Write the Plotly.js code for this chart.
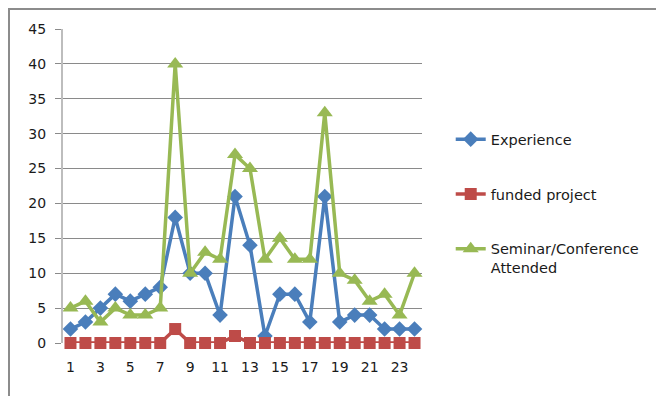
<!DOCTYPE html>
<html><head><meta charset="utf-8">
<script src="https://cdn.plot.ly/plotly-3.0.1.min.js"></script>
<style>
html,body{margin:0;padding:0;background:#fff;}
#frame{position:absolute;left:8px;top:8px;width:700px;height:450px;border-left:2px solid #8c8c8c;border-top:2px solid #8c8c8c;}
#chart{position:absolute;left:0;top:0;width:656px;height:396px;}
</style></head>
<body>
<div id="frame"></div>
<div id="chart"></div>
<script>
const categories = [1,2,3,4,5,6,7,8,9,10,11,12,13,14,15,16,17,18,19,20,21,22,23,24];
const tickLabels = [1,3,5,7,9,11,13,15,17,19,21,23];
const experience = [2,3,5,7,6,7,8,18,10,10,4,21,14,1,7,7,3,21,3,4,4,2,2,2];
const fundedProject = [0,0,0,0,0,0,0,2,0,0,0,1,0,0,0,0,0,0,0,0,0,0,0,0];
const seminar = [5,6,3,5,4,4,5,40,10,13,12,27,25,12,15,12,12,33,10,9,6,7,4,10];

const font = "DejaVu Sans, sans-serif";
const traces = [
  {x: categories, y: experience, name: 'Experience', mode: 'lines+markers', legendgroup: 'a',
   line: {color: '#4a7ebb', width: 3.5}, marker: {symbol: 'diamond', size: 12, color: '#4a7ebb'}, cliponaxis: false},
  {x: categories, y: fundedProject, name: 'funded project', mode: 'lines+markers', legendgroup: 'b',
   line: {color: '#be4b48', width: 3.5}, marker: {symbol: 'square', size: 12, color: '#be4b48'}, cliponaxis: false},
  {x: categories, y: seminar, name: 'Seminar/Conference<br>Attended', mode: 'lines+markers', legendgroup: 'c',
   line: {color: '#98b954', width: 3.5}, marker: {symbol: 'triangle-up', size: 14, color: '#98b954'}, cliponaxis: false}
];
const layout = {
  width: 656, height: 396,
  margin: {l: 63, r: 233, t: 29, b: 53},
  paper_bgcolor: 'rgba(0,0,0,0)', plot_bgcolor: 'rgba(0,0,0,0)',
  font: {family: font, size: 14, color: '#222'},
  showlegend: true,
  legend: {x: 1.077, xanchor: 'left', y: 0.70, yanchor: 'top', tracegroupgap: 33,
           font: {family: font, size: 14.5, color: '#1a1a1a'}, valign: 'top', bgcolor: 'rgba(0,0,0,0)'},
  xaxis: {range: [0.5, 24.5], tickvals: tickLabels, ticktext: tickLabels.map(String), showgrid: false,
          zeroline: false, showline: false, ticks: '', ticklabelstandoff: 14, tickfont: {family: font, size: 14, color: '#1a1a1a'}},
  yaxis: {range: [0, 45], dtick: 5, showgrid: true, gridcolor: '#8a8a8a', gridwidth: 1,
          zeroline: false, showline: true, linecolor: '#bdbdbd', linewidth: 2,
          ticks: 'outside', ticklen: 6, tickcolor: '#8a8a8a', ticklabelstandoff: 6, tickfont: {family: font, size: 14, color: '#1a1a1a'}}
};
Plotly.newPlot('chart', traces, layout, {displayModeBar: false, staticPlot: true});
</script>
</body></html>
